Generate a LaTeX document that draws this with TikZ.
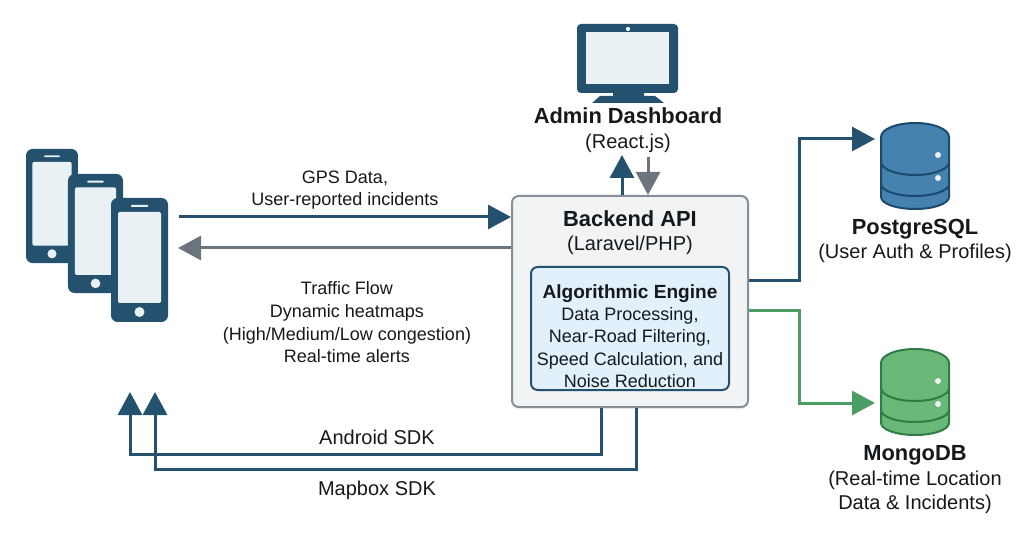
\documentclass[tikz,border=0pt]{standalone}
\usepackage{fontspec}
\setmainfont{Liberation Sans}
\usetikzlibrary{arrows.meta,positioning,shadows}

\definecolor{navy}{HTML}{24516D}
\definecolor{slate}{HTML}{6C757D}
\definecolor{screen}{HTML}{EAF1F5}
\definecolor{leaf}{HTML}{4A9D63}
\definecolor{pgfill}{HTML}{4682AE}
\definecolor{pgline}{HTML}{1A4A6E}
\definecolor{mgfill}{HTML}{6AB877}
\definecolor{mgline}{HTML}{2E7D46}
\definecolor{ink}{HTML}{15191C}
\definecolor{boxfill}{HTML}{F1F3F5}
\definecolor{boxline}{HTML}{868E96}
\definecolor{enginefill}{HTML}{E1F0FA}

\tikzset{
  flow/.style={line width=2.25pt,-{Triangle[length=17.25pt,width=18pt]}},
  caption/.style={align=center,inner sep=0pt,text=ink,font=\fontsize{13.5}{17}\selectfont},
  title/.style={align=center,inner sep=0pt,text=ink,font=\fontsize{16.4}{20}\selectfont\bfseries},
  subtitle/.style={align=center,inner sep=0pt,text=ink,font=\fontsize{15}{18}\selectfont},
  pics/phone/.style={code={
      \fill[navy,rounded corners=5pt] (-28.5,-62) rectangle (28.5,62);
      \fill[screen,rounded corners=1pt] (-21.5,-48) rectangle (21.5,43);
      \fill[screen,rounded corners=.5pt] (-8.5,-55) rectangle (8.5,-53);
      \fill[screen] (0,52) circle (3.75pt);
    }},
  pics/dbcyl/.style 2 args={code={
      \filldraw[fill=#1,draw=#2,line width=1.5pt] (-34,-29) arc[start angle=180,end angle=360,x radius=34,y radius=14]
        -- (34,31) arc[start angle=0,end angle=180,x radius=34,y radius=12] -- cycle;
      \draw[#2,line width=1.5pt] (-34,-4) arc[start angle=180,end angle=0,x radius=34,y radius=13];
      \draw[#2,line width=1.5pt] (-34,18) arc[start angle=180,end angle=0,x radius=34,y radius=12];
      \fill[screen] (23,-11) circle (2.25pt);
      \fill[screen] (23,12) circle (2.25pt);
    }},
}

\begin{document}
\begin{tikzpicture}[x=0.75pt,y=-0.75pt]
  \useasboundingbox (0,0) rectangle (1024,559);

  % phones, back to front
  \pic[xscale=.912,yscale=.92] at (52,206) {phone};
  \pic[xscale=.965,yscale=.96] at (95.5,233.5) {phone};
  \pic at (139.5,260) {phone};

  % monitor
  \fill[navy,rounded corners=3pt] (577,24) rectangle (678,93);
  \fill[screen] (586,32) rectangle (669,84);
  \fill[screen] (628,29) circle (1.6pt);
  \fill[navy] (613,92) -- (644,92) -- (644,96) -- (655,96) -- (664,103) -- (592,103) -- (600,96) -- (613,96) -- cycle;

  % databases
  \pic at (915,166) {dbcyl={pgfill}{pgline}};
  \pic at (915,392) {dbcyl={mgfill}{mgline}};

  % backend
  \node[draw=boxline,fill=boxfill,line width=1.5pt,rounded corners=5pt,minimum width=177pt,minimum height=158.25pt,inner sep=0pt,drop shadow={opacity=.1,shadow xshift=0pt,shadow yshift=-1.5pt}] (backend) at (630,301.5) {};
  \node[draw=navy,fill=enginefill,line width=1.5pt,rounded corners=5pt,minimum width=148.5pt,minimum height=92.25pt,inner sep=0pt] (engine) at (630,328.5) {};

  % texts
  \node[title] (admin) at (628,115.5) {Admin Dashboard};
  \node[subtitle] (adminsub) at (628,143) {(React.js)};
  \node[title] (backendname) at (630,218.5) {Backend API};
  \node[subtitle] (backendsub) at (630,245) {(Laravel/PHP)};
  \node[caption,font=\fontsize{13.5}{16.7}\selectfont] (enginetext) at (630,336) {{\fontsize{14.3}{16.7}\selectfont\bfseries Algorithmic Engine}\\Data Processing,\\Near-Road Filtering,\\Speed Calculation, and\\Noise Reduction};
  \node[title] (pgname) at (915,229) {PostgreSQL};
  \node[subtitle] (pgsub) at (915,253.5) {(User Auth \& Profiles)};
  \node[title] (mgname) at (915,455) {MongoDB};
  \node[subtitle] (mgsub) at (915,492) {(Real-time Location\\Data \& Incidents)};
  \node[caption] (gpstext) at (345,190) {GPS Data,\\User-reported incidents};
  \node[caption] (traffictext) at (347,322.5) {Traffic Flow\\Dynamic heatmaps\\(High/Medium/Low congestion)\\Real-time alerts};
  \node[subtitle] (androidtext) at (377,437) {Android SDK};
  \node[subtitle] (mapboxtext) at (377,490) {Mapbox SDK};

  % free ends
  \coordinate (phoneout) at (179,217);
  \coordinate (phonein) at (178,248);
  \coordinate (monitorin) at (622,155);
  \coordinate (monitorout) at (648,157);
  \coordinate (pgin) at (875,139);
  \coordinate (mgin) at (875,403);
  \coordinate (androidtip) at (130,392);
  \coordinate (mapboxtip) at (155,392);

  % connectors
  \draw[flow,navy] (phoneout) -- (phoneout -| backend.west);
  \draw[flow,slate] (phonein -| backend.west) -- (phonein);
  \draw[flow,navy] (backend.north -| monitorin) -- (monitorin);
  \draw[flow,slate] (monitorout) -- (backend.north -| monitorout);
  \draw[flow,navy] ([yshift=15.4pt]backend.east) -| (799,139) -- (pgin);
  \draw[flow,leaf] ([yshift=-7.1pt]backend.east) -| (799,403) -- (mgin);
  \draw[flow,navy] ([xshift=-21.75pt]backend.south) |- (130,454) -- (androidtip);
  \draw[flow,navy] ([xshift=4.5pt]backend.south) |- (155,469) -- (mapboxtip);
\end{tikzpicture}
\end{document}
